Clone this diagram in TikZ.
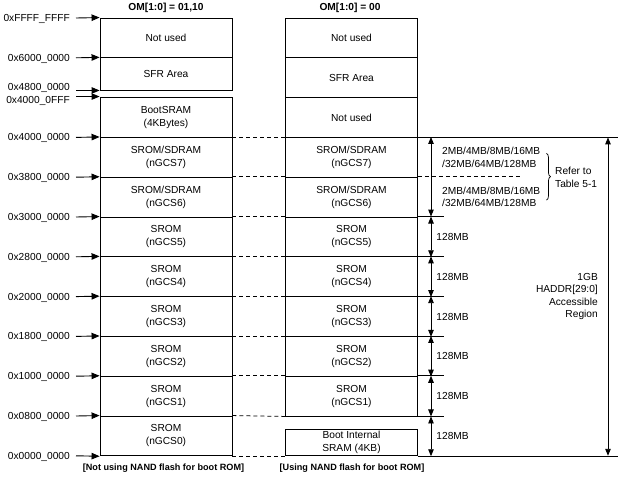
\documentclass[tikz,border=0pt]{standalone}
\usepackage{fontspec}
\setmainfont{Liberation Sans}
\usetikzlibrary{arrows.meta,decorations.pathreplacing}

\begin{document}
\begin{tikzpicture}[x=1pt,y=-1pt]
\tikzset{every node/.style={font=\fontsize{10.2}{13}\selectfont}}
\tikzset{blk/.style={draw,line width=0.9pt,minimum width=132,minimum height=39.8,inner sep=0,align=center}}
\tikzset{addr/.style={anchor=east,inner sep=0,text depth=0pt}}
\tikzset{ptr/.style={-{Triangle[length=8pt,width=6.5pt]},line width=0.9pt}}
\tikzset{span/.style={{Triangle[length=7pt,width=5.5pt]}-{Triangle[length=7pt,width=5.5pt]},line width=0.9pt}}
\tikzset{gap/.style={dash pattern=on 4pt off 3pt,line width=0.8pt}}
\tikzset{side/.style={anchor=west,inner sep=0,align=left,font=\fontsize{10.2}{12.3}\selectfont}}
\tikzset{title/.style={font=\bfseries\fontsize{10.2}{12}\selectfont}}
\tikzset{caption/.style={font=\bfseries\fontsize{9.1}{11}\selectfont}}

\useasboundingbox (0,0) rectangle (622,482);

\node[title] (tl) at (166,8) {OM[1:0] = 01,10};
\node[title] (tr) at (350,8) {OM[1:0] = 00};

\node[blk] (lnu) at (166,37.9) {Not used};
\node[blk,minimum height=32.2] (lsfr) at (166,73.9) {SFR Area};
\node[blk,minimum height=40.4] (lboot) at (166,117.2) {BootSRAM\\(4KBytes)};
\node[blk] (l7) at (166,157.3) {SROM/SDRAM\\(nGCS7)};
\node[blk] (l6) at (166,197.1) {SROM/SDRAM\\(nGCS6)};
\foreach \i in {5,...,0}
  \node[blk] (l\i) at (166,{435.9-39.8*\i}) {SROM\\(nGCS\i)};

\node[blk] (rnu) at (351.5,37.9) {Not used};
\node[blk] (rsfr) at (351.5,77.7) {SFR Area};
\node[blk] (rnu2) at (351.5,117.5) {Not used};
\node[blk] (r7) at (351.5,157.3) {SROM/SDRAM\\(nGCS7)};
\node[blk] (r6) at (351.5,197.1) {SROM/SDRAM\\(nGCS6)};
\foreach \i in {5,...,1}
  \node[blk] (r\i) at (351.5,{435.9-39.8*\i}) {SROM\\(nGCS\i)};
\node[blk,minimum height=26.8,font=\fontsize{10.2}{12.5}\selectfont] (rboot) at (351.5,442.4) {Boot Internal\\SRAM (4KB)};

\node[addr] (aF) at (70,18) {0xFFFF\_FFFF};
\node[addr] (a6) at (70,57.8) {0x6000\_0000};
\node[addr] (a48) at (70,87) {0x4800\_0000};
\node[addr] (a40F) at (70,100) {0x4000\_0FFF};
\node[addr] (a40) at (70,137.4) {0x4000\_0000};
\foreach \n/\t in {6/3800,5/3000,4/2800,3/2000,2/1800,1/1000,0/0800}
  \node[addr] (a\t) at (70,{416-39.8*\n}) {0x\t\_0000};
\node[addr] (a0000) at (70,455.8) {0x0000\_0000};

\draw[ptr] ([xshift=6]aF.east) -- (lnu.north west);
\draw[ptr] ([xshift=6]a6.east) -- (lsfr.north west);
\draw[ptr] ([xshift=6]a48.east |- lsfr.south west) -- (lsfr.south west);
\draw[ptr] ([xshift=6]a40F.east |- lboot.north west) -- (lboot.north west);
\draw[ptr] ([xshift=6]a40.east) -- (l7.north west);
\foreach \n/\t in {6/3800,5/3000,4/2800,3/2000,2/1800,1/1000,0/0800}
  \draw[ptr] ([xshift=6]a\t.east) -- (l\n.north west);
\draw[ptr] ([xshift=6]a0000.east) -- (l0.south west);

\foreach \i in {7,...,1}
  \draw[gap] (l\i.north east) -- (r\i.north west);
\draw[gap] (l0.north east) -- (r1.south west);
\draw[gap] (l0.south east) -- (rboot.south west);

\coordinate (edge) at (618,0);
\coordinate (tick) at (444,0);
\coordinate (dashend) at (520,0);
\coordinate (col) at (431,0);
\coordinate (gt) at (608,137.4);
\coordinate (gb) at (608,455.8);

\draw[line width=0.9pt] (r7.north east) -- (r7.north east -| edge);
\draw[line width=0.9pt] (rboot.south east) -- (rboot.south east -| edge);
\draw[gap] (r6.north east) -- (r6.north east -| dashend);
\foreach \i in {5,...,1}
  \draw[line width=0.9pt] (r\i.north east) -- (r\i.north east -| tick);
\draw[line width=0.9pt] (r1.south east) -- (r1.south east -| tick);

\draw[span] (r7.north east -| col) -- (r5.north east -| col);
\foreach \i in {5,...,1}
  \draw[span] (r\i.north east -| col) -- (r\i.south east -| col) node[side,midway,xshift=5] {128MB};
\draw[span] (r1.south east -| col) -- (rboot.south east -| col) node[side,midway,xshift=5] {128MB};

\node[side] (m7) at (442,157.3) {2MB/4MB/8MB/16MB\\/32MB/64MB/128MB};
\node[side] (m6) at (442,197.1) {2MB/4MB/8MB/16MB\\/32MB/64MB/128MB};
\draw[decorate,decoration={brace,amplitude=4pt},line width=0.7pt] ([xshift=6,yshift=4]m7.east) -- ([xshift=6,yshift=-3]m6.east);
\node[side] (ref) at (555,177.5) {Refer to\\Table 5-1};

\draw[span] (gt) -- (gb);
\node[anchor=east,align=right,inner sep=0,font=\fontsize{10.2}{12.3}\selectfont] (acc) at (598,296.5) {1GB\\HADDR[29:0]\\Accessible\\Region};

\node[caption] (cl) at (163.5,468) {[Not using NAND flash for boot ROM]};
\node[caption] (cr) at (352,468) {[Using NAND flash for boot ROM]};
\end{tikzpicture}
\end{document}
